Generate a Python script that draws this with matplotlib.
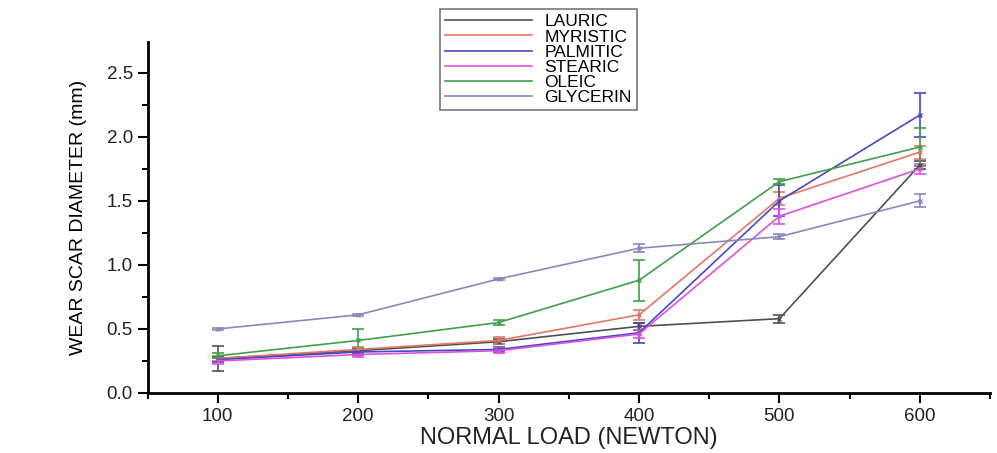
import matplotlib
matplotlib.use("Agg")
import matplotlib.pyplot as plt
from matplotlib.ticker import MultipleLocator

loads = [100, 200, 300, 400, 500, 600]
series_names = ["LAURIC", "MYRISTIC", "PALMITIC", "STEARIC", "OLEIC", "GLYCERIN"]
lauric = [0.27, 0.33, 0.40, 0.52, 0.58, 1.78]
lauric_err = [0.10, 0.02, 0.02, 0.03, 0.03, 0.03]
myristic = [0.27, 0.34, 0.41, 0.61, 1.52, 1.88]
myristic_err = [0.02, 0.02, 0.03, 0.04, 0.05, 0.05]
palmitic = [0.26, 0.32, 0.34, 0.47, 1.50, 2.17]
palmitic_err = [0.02, 0.02, 0.02, 0.08, 0.12, 0.17]
stearic = [0.25, 0.30, 0.33, 0.46, 1.38, 1.75]
stearic_err = [0.02, 0.02, 0.02, 0.03, 0.06, 0.04]
oleic = [0.29, 0.41, 0.55, 0.88, 1.65, 1.92]
oleic_err = [0.02, 0.09, 0.02, 0.16, 0.02, 0.15]
glycerin = [0.50, 0.61, 0.89, 1.13, 1.22, 1.50]
glycerin_err = [0.01, 0.01, 0.01, 0.03, 0.02, 0.05]

colors = ["#505050", "#e07868", "#4848c0", "#e050e0", "#40a048", "#8888bb"]
values = [lauric, myristic, palmitic, stearic, oleic, glycerin]
errors = [lauric_err, myristic_err, palmitic_err, stearic_err, oleic_err, glycerin_err]

plt.rcParams['font.family'] = ['Liberation Sans', 'DejaVu Sans']

fig = plt.figure(figsize=(9.97, 4.53), dpi=100)
ax = fig.add_axes([0.148, 0.1325, 0.845, 0.7748])

for name, v, e, c in zip(series_names, values, errors, colors):
    ax.errorbar(loads, v, yerr=e, color=c, lw=1.2, capsize=4, elinewidth=1.2,
                capthick=1.2, marker='x', markersize=3, label=name)

ax.set_xlim(50, 650)
ax.set_ylim(0, 2.74)
ax.xaxis.set_major_locator(MultipleLocator(100))
ax.xaxis.set_minor_locator(MultipleLocator(50))
ax.yaxis.set_major_locator(MultipleLocator(0.5))
ax.yaxis.set_minor_locator(MultipleLocator(0.25))
ax.set_xticks(loads)
ax.set_yticks([0.0, 0.5, 1.0, 1.5, 2.0, 2.5])
ax.set_yticklabels(["0.0", "0.5", "1.0", "1.5", "2.0", "2.5"])

for s in ["top", "right"]:
    ax.spines[s].set_visible(False)
for s in ["left", "bottom"]:
    ax.spines[s].set_linewidth(2)
ax.tick_params(axis='both', which='major', direction='out', length=7, width=1.5,
               labelsize=13.5, colors='black', labelcolor='#222222')
ax.tick_params(axis='both', which='minor', direction='out', length=4, width=1.5)

ax.set_xlabel("NORMAL LOAD (NEWTON)", fontsize=17, labelpad=2, color='#222222')
ax.set_ylabel("WEAR SCAR DIAMETER (mm)", fontsize=14, labelpad=14,
              family=['Liberation Sans Narrow', 'Liberation Sans', 'DejaVu Sans'])

handles, labels = ax.get_legend_handles_labels()
handles = [h[0] for h in handles]
leg = fig.legend(handles, labels, loc='upper left', bbox_to_anchor=(440 / 997, 1 - 9 / 453),
                 frameon=True, fancybox=False, edgecolor='#555555', fontsize=12.5,
                 handlelength=5.0, labelspacing=0.0, borderpad=0.3, handletextpad=0.7,
                 borderaxespad=0.0)
for h in leg.legend_handles:
    h.set_marker('')
leg.get_frame().set_linewidth(1.2)

fig.savefig("out.png", dpi=100)
